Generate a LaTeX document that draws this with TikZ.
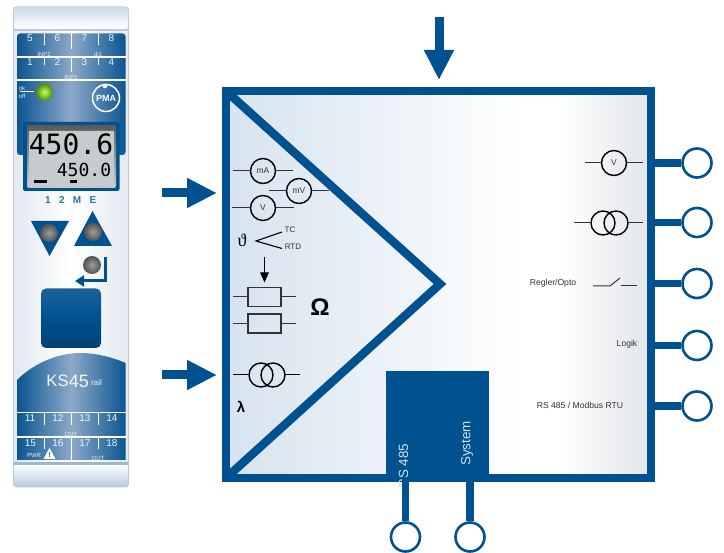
\documentclass[tikz,border=0pt]{standalone}
\usepackage{fontspec}
\setmainfont{Liberation Sans}
\newfontfamily\serifsym{Liberation Serif}
\newfontfamily\monolcd{DejaVu Sans Mono}
\usetikzlibrary{arrows.meta}
\definecolor{kblue}{HTML}{00518F}
\definecolor{pdark}{HTML}{0A5592}
\definecolor{pmid}{HTML}{8DA9C8}
\definecolor{edgeb}{HTML}{B5CADF}
\definecolor{devl}{HTML}{E3E9EF}
\definecolor{lcd}{HTML}{C6CBCD}
\definecolor{bluetxt}{HTML}{2F6FA8}
\definecolor{soft}{HTML}{D6E3EF}
\definecolor{leadc}{HTML}{333333}
\definecolor{rightg}{HTML}{E2E6EA}
\newcommand{\fsz}[1]{\fontsize{#1}{#1}\selectfont}
\tikzset{
  port/.style={circle,draw=kblue,line width=2.6pt,fill=white,minimum size=29pt,inner sep=0pt},
  stub/.style={draw=kblue,line width=7.5pt},
  bigarrow/.style={draw=kblue,line width=9pt,-{Triangle[length=30pt,width=28pt]}},
  frameline/.style={draw=kblue,line width=8.5pt,line join=miter},
  meter/.style={circle,draw=black,line width=1.4pt,fill=none,minimum size=25pt,inner sep=0pt,text=leadc,font=\fsz{8.4}},
  coil/.style={circle,draw=black,line width=1.4pt,minimum size=24pt,inner sep=0pt},
  lead/.style={draw=leadc,line width=1pt},
  res/.style={draw=leadc,line width=1.5pt,minimum width=33pt,minimum height=19pt,inner sep=0pt},
  lab/.style={text=leadc,inner sep=0pt,font=\fsz{8.6}},
  wtick/.style={draw=white,line width=1pt},
  wsep/.style={draw=white,line width=1.2pt},
  termnum/.style={text=white!85!pmid,inner sep=0pt,font=\fsz{10}},
  termlab/.style={text=white!80!pmid,inner sep=0pt,font=\fsz{6}},
  knob/.style={circle,minimum size=18pt,inner sep=0pt,inner color=black!38,outer color=black!68,draw=none},
  bluepanel/.style={left color=pdark,right color=pdark,middle color=pmid},
}
\begin{document}
\begin{tikzpicture}[x=1pt,y=-1pt]
\useasboundingbox (0,0) rectangle (724,553);
% ---------- device ----------
\fill[rounded corners=3pt,left color=devl,right color=devl,middle color=white,draw=edgeb,line width=.8pt] (13.5,7) rectangle (128.5,487);
\shade[rounded corners=3pt,top color=edgeb!70,bottom color=white,draw=none] (14,7) rectangle (128,29);
\fill[edgeb] (14,29) rectangle (128,31);
\shade[rounded corners=3pt,top color=white,bottom color=edgeb,draw=none] (14,464) rectangle (128,487);
\fill[edgeb!90!black] (14,462) rectangle (128,465);
% top panel
\shade[bluepanel,rounded corners=3pt] (17,33.5) rectangle (125.5,155);
\draw[wsep] (17,57) -- (125.5,57);
\draw[wsep] (17,80) -- (125.5,80);
\draw[wtick] (44,33) -- (44,45);
\draw[wtick] (71,33) -- (71,49);
\draw[wtick] (98,33) -- (98,45);
\draw[wtick] (44,57) -- (44,65);
\draw[wtick] (71,57) -- (71,72);
\draw[wtick] (98,57) -- (98,65);
\node[termnum] (t5) at (30,38) {5};
\node[termnum] (t6) at (57.5,38) {6};
\node[termnum] (t7) at (84.5,38) {7};
\node[termnum] (t8) at (111.5,38) {8};
\node[termnum] (t1) at (30,62) {1};
\node[termnum] (t2) at (57.5,62) {2};
\node[termnum] (t3) at (84.5,62) {3};
\node[termnum] (t4) at (111.5,62) {4};
\node[termlab] (inp2) at (44,54) {INP2};
\node[termlab] (di1) at (98,54) {di1};
\node[termlab] (inp1) at (71,77.5) {INP1};
\node[termlab] (ok) at (22,88) {ok};
\node[termlab] (off) at (22,96) {off};
\draw[draw=white,line width=1.4pt] (20,91.5) -- (34,91.5);
\shade[inner color=green!40!yellow!60!white,outer color=green!45!yellow!55!black] (44.5,92) circle (8.5);
\draw[white,line width=1.5pt] (106,98) circle (13.5);
\fill[white] (105,86) circle (2.3);
\node[inner sep=0pt,text=white,font=\bfseries\fsz{9}] (pma) at (106,98) {PMA};
% display
\fill[kblue,rounded corners=2pt] (23,122) rectangle (119.5,191);
\shade[rounded corners=2pt,top color=black!65,bottom color=lcd] (27,125) rectangle (116,188);
\fill[lcd,rounded corners=1pt] (29,131) rectangle (114,186);
\node[inner sep=0pt,text=black,font=\monolcd\fsz{28}] (big) at (71,144.5) {450.6};
\node[inner sep=0pt,text=black,font=\monolcd\fsz{18}] (small) at (84,169.5) {450.0};
\fill[black] (34,180) rectangle (47,183);
\fill[black] (70,180) rectangle (77,183);
\node[inner sep=0pt,text=bluetxt,font=\bfseries\fsz{10}] (m1) at (48,200.5) {1};
\node[inner sep=0pt,text=bluetxt,font=\bfseries\fsz{10}] (m2) at (62,200.5) {2};
\node[inner sep=0pt,text=bluetxt,font=\bfseries\fsz{10}] (m3) at (77,200.5) {M};
\node[inner sep=0pt,text=bluetxt,font=\bfseries\fsz{10}] (m4) at (93,200.5) {E};
% keys
\fill[kblue] (31,221) -- (69,221) -- (49.5,256) -- cycle;
\fill[kblue] (92.5,211) -- (74,246) -- (112,246) -- cycle;
\node[knob] (kd) at (49,233) {};
\node[knob] (ku) at (93,232) {};
\node[knob] (ke) at (92,265) {};
\draw[kblue,line width=3pt,-{Triangle[length=9pt,width=11pt]}] (105,257) -- (105,281) -- (75,281);
% blue button
\shade[rounded corners=5pt,top color=kblue!90!white,bottom color=kblue!80!black,middle color=kblue] (41,288.5) rectangle (101,348);
% lower panel
\shade[bluepanel] (17,380) .. controls (35,362) and (60,353) .. (80,353) .. controls (95,353) and (112,357) .. (125.5,363) -- (125.5,460) -- (17,460) -- cycle;
\draw[wsep] (17,412.5) -- (125.5,412.5);
\draw[wsep] (17,437) -- (125.5,437);
\draw[wtick] (44,413) -- (44,425);
\draw[wtick] (71,413) -- (71,425);
\draw[wtick] (98,413) -- (98,425);
\draw[wtick] (44,437) -- (44,449);
\draw[wtick] (71,437) -- (71,460);
\draw[wtick] (98,437) -- (98,449);
\node[inner sep=0pt,text=white!90!pmid,font=\fsz{16.5}] (ks) at (57.5,381) {KS};
\node[inner sep=0pt,text=white!90!pmid,font=\fsz{18}] (n45) at (79,381) {45};
\node[inner sep=0pt,text=white!90!pmid,font=\fsz{8}] (rail) at (96.5,383) {rail};
\node[termnum] (t11) at (30,418.5) {11};
\node[termnum] (t12) at (58,418.5) {12};
\node[termnum] (t13) at (85,418.5) {13};
\node[termnum] (t14) at (112,418.5) {14};
\node[termlab] (out1) at (71,434.5) {OUT};
\node[termnum] (t15) at (30.5,443) {15};
\node[termnum] (t16) at (58,443) {16};
\node[termnum] (t17) at (85,443) {17};
\node[termnum] (t18) at (112,443) {18};
\node[termlab] (pwr) at (34,455.5) {PWR};
\fill[white] (43.5,459) -- (49.5,448) -- (55.5,459) -- cycle;
\node[inner sep=0pt,text=pdark,font=\bfseries\fsz{7}] (warn) at (49.5,455) {!};
\node[termlab] (out2) at (98,458) {OUT};
% ---------- block diagram ----------
\shade[left color=soft,right color=white,draw=none] (226,91) rectangle (520,478);
\fill[white] (519,91) rectangle (561,478);
\shade[left color=white,right color=rightg,draw=none] (560,91) rectangle (648,478);
\coordinate (tl) at (226,91);
\coordinate (tr) at (651,91);
\coordinate (br) at (651,478);
\coordinate (bl) at (226,478);
\coordinate (apex) at (440,284);
\draw[frameline] (tl) -- (apex) -- (bl);
\draw[frameline] (tl) -- (tr) -- (br) -- (bl) -- cycle;
\node[fill=kblue,minimum width=103pt,minimum height=103pt,inner sep=0pt] (iface) at (437.5,422.5) {};
\node[rotate=90,inner sep=0pt,text=soft,font=\fsz{13.4}] (rs) at (403.5,443.5) [anchor=east] {RS 485};
\node[rotate=90,inner sep=0pt,text=soft,font=\fsz{13.4}] (sys) at (467,466) [anchor=west] {System};
% big arrows
\coordinate (a1s) at (439,17);
\coordinate (a1e) at (439,80);
\coordinate (a2s) at (162,193);
\coordinate (a2e) at (217,193);
\coordinate (a3s) at (162,375);
\coordinate (a3e) at (217,375);
\draw[bigarrow] (a1s) -- (a1e);
\draw[bigarrow] (a2s) -- (a2e);
\draw[bigarrow] (a3s) -- (a3e);
% ports
\coordinate (o1) at (651,163);
\coordinate (o2) at (651,222.5);
\coordinate (o3) at (651,283.5);
\coordinate (o4) at (651,345.5);
\coordinate (o5) at (651,406);
\coordinate (b1) at (405.5,478);
\coordinate (b2) at (470,478);
\node[port] (p1) at (697,163) {};
\node[port] (p2) at (697,222.5) {};
\node[port] (p3) at (697,283.5) {};
\node[port] (p4) at (697,345.5) {};
\node[port] (p5) at (697,406) {};
\node[port] (p6) at (405.5,537) {};
\node[port] (p7) at (470,537) {};
\draw[stub] (o1) -- (p1);
\draw[stub] (o2) -- (p2);
\draw[stub] (o3) -- (p3);
\draw[stub] (o4) -- (p4);
\draw[stub] (o5) -- (p5);
\draw[stub] (b1) -- (p6);
\draw[stub] (b2) -- (p7);
% input symbols
\node[meter] (ma) at (263,171) {mA};
\coordinate (maL) at (233,171); \coordinate (maR) at (293,171);
\draw[lead] (maL) -- (ma); \draw[lead] (ma) -- (maR);
\node[meter] (mv) at (299,191) {mV};
\coordinate (mvL) at (269,191); \coordinate (mvR) at (329,191);
\draw[lead] (mvL) -- (mv); \draw[lead] (mv) -- (mvR);
\node[meter] (vin) at (263,208) {V};
\coordinate (vL) at (232,208); \coordinate (vR) at (294,208);
\draw[lead] (vL) -- (vin); \draw[lead] (vin) -- (vR);
\node[inner sep=0pt,font=\serifsym\fsz{18}] (theta) at (242,240) {ϑ};
\node[lab,font=\fsz{8}] (tc) at (290,230) {TC};
\node[lab,font=\fsz{8}] (rtd) at (293,247) {RTD};
\coordinate (tv) at (256,241);
\coordinate (tce) at (282,232);
\coordinate (rte) at (282,248.5);
\draw[draw=black,line width=1.1pt] (tce) -- (tv) -- (rte);
\coordinate (arrS) at (264.5,257);
\coordinate (arrE) at (264.5,282.5);
\node[res] (r1) at (264.5,297) {};
\node[res] (r2) at (264.5,323.5) {};
\draw[draw=black,line width=.9pt,-{Triangle[length=10pt,width=8.5pt]}] (arrS) -- (arrE);
\coordinate (r1L) at (233,297); \coordinate (r1R) at (296,297);
\coordinate (r2L) at (233,323.5); \coordinate (r2R) at (296,323.5);
\draw[lead] (r1L) -- (r1); \draw[lead] (r1) -- (r1R);
\draw[lead] (r2L) -- (r2); \draw[lead] (r2) -- (r2R);
\node[inner sep=0pt,font=\bfseries\fsz{24}] (om) at (320,307) {Ω};
\node[coil] (c1) at (261,375) {};
\node[coil] (c2) at (273,375) {};
\coordinate (cL) at (233,375); \coordinate (cR) at (300,375);
\draw[lead,draw=black] (cL) -- (c1); \draw[lead,draw=black] (c2) -- (cR);
\node[inner sep=0pt,font=\bfseries\fsz{15}] (lam) at (241,407) {λ};
% output symbols
\node[meter] (vout) at (614,163) {V};
\coordinate (voL) at (585,163); \coordinate (voR) at (643,163);
\draw[lead] (voL) -- (vout); \draw[lead] (vout) -- (voR);
\node[coil] (c3) at (603,223) {};
\node[coil] (c4) at (616,223) {};
\coordinate (c3L) at (574,223); \coordinate (c4R) at (643,223);
\draw[lead] (c3L) -- (c3); \draw[lead] (c4) -- (c4R);
\node[lab] (reg) at (553,283) {Regler/Opto};
\coordinate (s1) at (593,286); \coordinate (s2) at (610,286); \coordinate (s3) at (620,278);
\coordinate (s4) at (621,286); \coordinate (s5) at (637,286);
\draw[lead] (s1) -- (s2) -- (s3);
\draw[lead] (s4) -- (s5);
\node[lab] (logik) at (627,344) {Logik};
\node[lab] (mod) at (580,405) {RS 485 / Modbus RTU};
\end{tikzpicture}
\end{document}
